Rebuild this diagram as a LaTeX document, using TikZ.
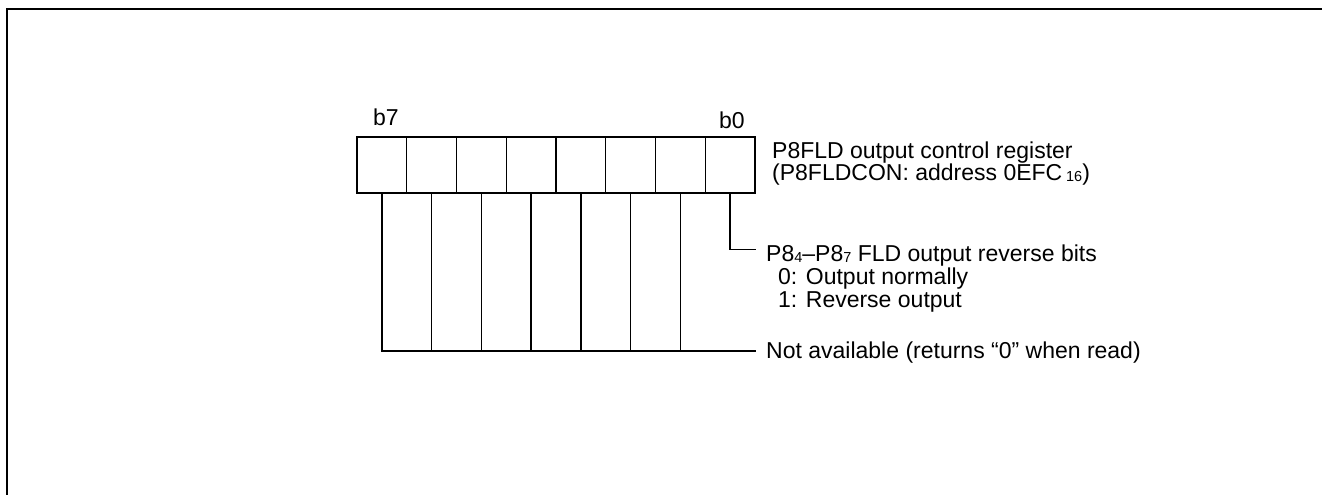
\documentclass[tikz,border=0pt]{standalone}
\usepackage{fontspec}
\setmainfont{Liberation Sans}
\newcommand{\sdig}[1]{\raisebox{-1.5pt}{\fontsize{14.5}{14.5}\selectfont #1}}
\begin{document}
\begin{tikzpicture}[x=1pt,y=-1pt,
  cell/.style={draw, line width=1.3pt, minimum width=49.75pt, minimum height=56pt, inner sep=0pt, outer sep=0pt},
  lead/.style={line width=1.3pt},
  frame/.style={line width=2pt},
  txt/.style={anchor=base west, inner sep=0pt, font=\fontsize{23}{27}\selectfont}]
\useasboundingbox (0,0) rectangle (1322,495);
\draw[frame] (6.5,495) -- (6.5,9) -- (1322,9);
% register cells b7..b0
\foreach \i [count=\k from 0] in {7,6,5,4,3,2,1,0}
  \node[cell] (c\i) at ({357+49.75*\k+24.875},165) {};
\node[txt] (b7) at (373,125) {b7};
\node[txt] (b0) at (719,128) {b0};
\node[txt] (reg1) at (772,158) {P8FLD output control register};
\node[txt] (reg2) at (772,180) {(P8FLDCON: address 0EFC\,\sdig{16})};
% b0 function
\coordinate (r0) at (756,249.5);
\draw[lead] (c0.south) |- (r0);
\node[txt] (f1) at (766,261) {P8\sdig{4}–P8\sdig{7} FLD output reverse bits};
\node[txt] (f1a) at (778,284) {0: Output normally};
\node[txt] (f1b) at (778,307) {1: Reverse output};
% not available bits
\coordinate (na) at (756,351);
\draw[lead] (c7.south) |- (na);
\foreach \i in {6,5,4,3,2,1}
  \draw[lead] (c\i.south) -- (c\i.south |- na);
\node[txt] (f2) at (766,358) {Not available (returns “0” when read)};
\end{tikzpicture}
\end{document}
